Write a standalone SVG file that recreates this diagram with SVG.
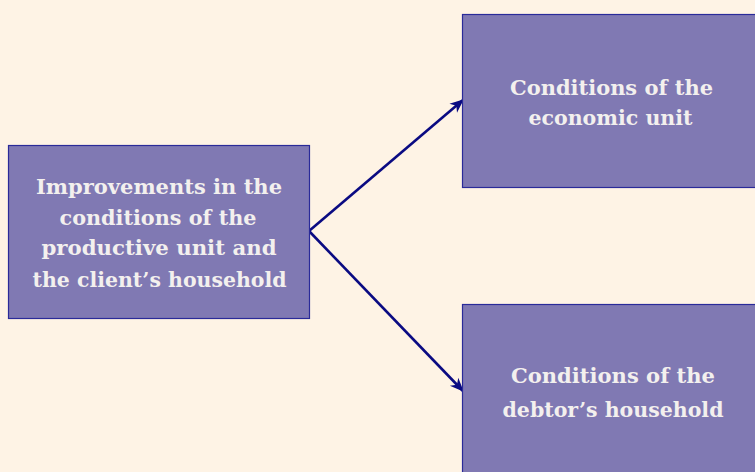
<svg xmlns="http://www.w3.org/2000/svg" width="755" height="472" viewBox="0 0 755 472">
  <defs>
    <marker id="head" viewBox="0 0 12 10" refX="11" refY="5" markerWidth="14" markerHeight="12" markerUnits="userSpaceOnUse" orient="auto" overflow="visible">
      <path d="M0,0 L12,5 L0,10 L3.5,5 Z" fill="#0a0a82"/>
    </marker>
    <style>
      .box { fill: #8079b3; stroke: #2a2a99; stroke-width: 1.2; }
      .lbl { font-family: "DejaVu Serif", "Liberation Serif", serif; font-weight: bold; font-size: 20px; fill: #f3f0ee; text-anchor: middle; }
      .edge { fill: none; stroke: #0a0a82; stroke-width: 2.6; }
    </style>
  </defs>
  <rect width="755" height="472" fill="#fef3e5"/>

  <g id="connectors">
    <line class="edge" x1="309" y1="231" x2="463" y2="100" marker-end="url(#head)"/>
    <line class="edge" x1="309" y1="231" x2="463" y2="391" marker-end="url(#head)"/>
  </g>

  <g id="improvements">
    <rect class="box" x="8.5" y="145.5" width="301" height="173"/>
    <text class="lbl" x="159" y="194" textLength="246" lengthAdjust="spacingAndGlyphs">Improvements in the</text>
    <text class="lbl" x="158" y="225" textLength="197" lengthAdjust="spacingAndGlyphs">conditions of the</text>
    <text class="lbl" x="159" y="255" textLength="235" lengthAdjust="spacingAndGlyphs">productive unit and</text>
    <text class="lbl" x="159.5" y="287" textLength="254" lengthAdjust="spacingAndGlyphs">the client’s household</text>
  </g>

  <g id="economic-unit">
    <rect class="box" x="462.5" y="14.5" width="300" height="173"/>
    <text class="lbl" x="611.5" y="95" textLength="203" lengthAdjust="spacingAndGlyphs">Conditions of the</text>
    <text class="lbl" x="610.5" y="125" textLength="164" lengthAdjust="spacingAndGlyphs">economic unit</text>
  </g>

  <g id="debtor-household">
    <rect class="box" x="462.5" y="304.5" width="300" height="180"/>
    <text class="lbl" x="613" y="383" textLength="204" lengthAdjust="spacingAndGlyphs">Conditions of the</text>
    <text class="lbl" x="613" y="417" textLength="221" lengthAdjust="spacingAndGlyphs">debtor’s household</text>
  </g>
</svg>
